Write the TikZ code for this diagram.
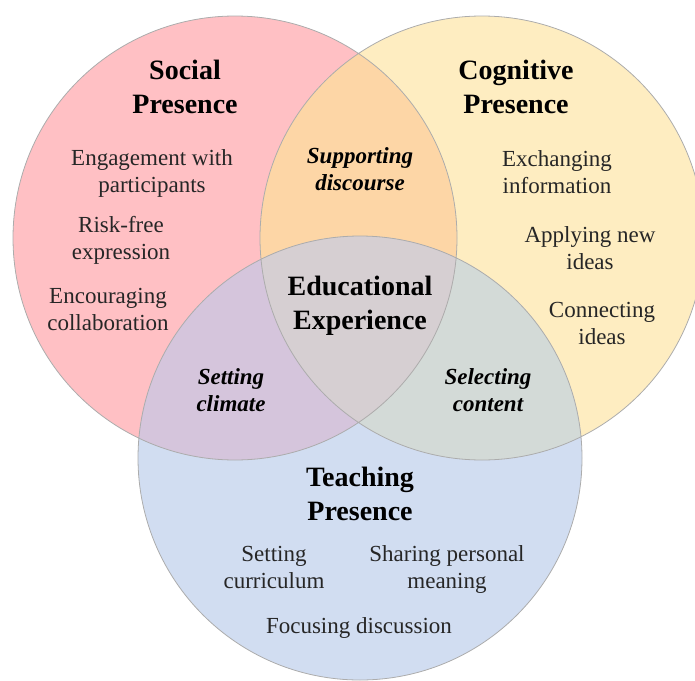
\documentclass[tikz,border=0pt]{standalone}
\usepackage{fontspec}
\setmainfont{Liberation Serif}
\usepackage{tikz}
\definecolor{socialpink}{HTML}{FFC0C4}
\definecolor{cogyellow}{HTML}{FEEDC1}
\definecolor{teachblue}{HTML}{D1DDF1}
\definecolor{scmix}{HTML}{FDD6A6}
\definecolor{stmix}{HTML}{D5C5DC}
\definecolor{ctmix}{HTML}{D3DAD7}
\definecolor{allmix}{HTML}{D6CFD2}
\tikzstyle{heading}=[align=center, font=\fontsize{28}{34}\selectfont\bfseries]
\tikzstyle{item}=[align=center, font=\fontsize{23}{27}\selectfont, text=black!85]
\tikzstyle{overlap}=[align=center, font=\fontsize{23}{27}\selectfont\bfseries\itshape]
\tikzstyle{ring}=[draw=gray!65, line width=0.8pt]

\begin{document}
\begin{tikzpicture}[x=1pt, y=-1pt]
\useasboundingbox (0,0) rectangle (695,680);
\clip (0,0) rectangle (695,680);
\def\vennr{222pt}
\coordinate (S) at (235,238);
\coordinate (C) at (482,238);
\coordinate (T) at (360,458);
\fill[socialpink] (S) circle[radius=\vennr];
\fill[cogyellow] (C) circle[radius=\vennr];
\fill[teachblue] (T) circle[radius=\vennr];
\begin{scope}
\clip (C) circle[radius=\vennr];
\fill[ctmix] (T) circle[radius=\vennr];
\end{scope}
\begin{scope}
\clip (S) circle[radius=\vennr];
\fill[scmix] (C) circle[radius=\vennr];
\fill[stmix] (T) circle[radius=\vennr];
\clip (C) circle[radius=\vennr];
\fill[allmix] (T) circle[radius=\vennr];
\end{scope}
\draw[ring] (S) circle[radius=\vennr] (C) circle[radius=\vennr] (T) circle[radius=\vennr];

\node[heading] (social) at (185,87) {Social\\Presence};
\node[item] (engage) at (152,173) {Engagement with\\participants};
\node[item] (risk) at (121,240) {Risk-free\\expression};
\node[item] (collab) at (108,309) {Encouraging\\collaboration};

\node[heading] (cognitive) at (516,87) {Cognitive\\Presence};
\node[item] (exchange) at (557,172) {Exchanging\\information};
\node[item] (apply) at (590,248) {Applying new\\ideas};
\node[item] (connect) at (602,323) {Connecting\\ideas};

\node[heading] (teaching) at (360,494) {Teaching\\Presence};
\node[item] (curric) at (274,567) {Setting\\curriculum};
\node[item] (sharing) at (447,569) {Sharing personal\\meaning};
\node[item, anchor=base] (focus) at (359,633) {Focusing discussion};

\node[overlap] (discourse) at (360,169) {Supporting\\discourse};
\node[overlap] (climate) at (231,390) {Setting\\climate};
\node[overlap] (content) at (488,390) {Selecting\\content};
\node[heading] (edu) at (360,306) {Educational\\Experience};
\end{tikzpicture}
\end{document}
